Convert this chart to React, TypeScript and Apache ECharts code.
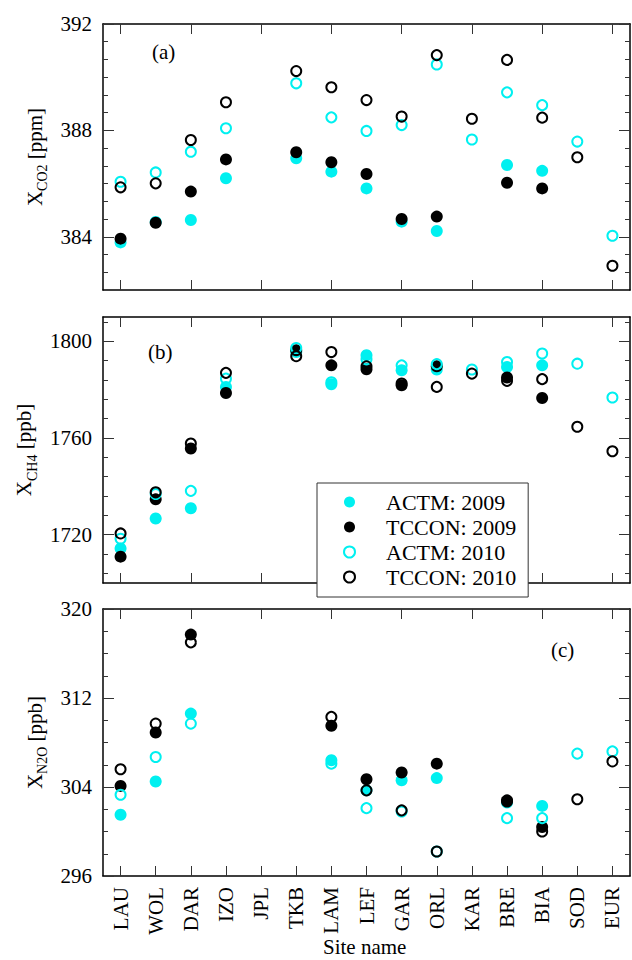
import React, { useEffect, useRef } from "react";
import * as echarts from "echarts";

const sites = ["LAU", "WOL", "DAR", "IZO", "JPL", "TKB", "LAM", "LEF", "GAR", "ORL", "KAR", "BRE", "BIA", "SOD", "EUR"];
const seriesNames = ["ACTM: 2009", "TCCON: 2009", "ACTM: 2010", "TCCON: 2010"];

// XCO2 [ppm]
const co2Actm2009 = [383.79, 384.56, 384.63, 386.2, null, 386.95, 386.45, 385.82, 384.57, 384.22, null, 386.7, 386.48, null, null];
const co2Tccon2009 = [383.93, 384.53, 385.7, 386.91, null, 387.18, 386.8, 386.36, 384.67, 384.76, null, 386.03, 385.82, null, null];
const co2Actm2010 = [386.07, 386.42, 387.2, 388.08, null, 389.77, 388.49, 387.98, 388.2, 390.48, 387.66, 389.43, 388.95, 387.58, 384.04];
const co2Tccon2010 = [385.86, 386.01, 387.64, 389.06, null, 390.23, 389.62, 389.14, 388.52, 390.83, 388.44, 390.65, 388.48, 386.99, 382.91];

// XCH4 [ppb]
const ch4Actm2009 = [1714.3, 1726.7, 1730.9, 1781.1, null, 1795.5, 1782.2, 1794.2, 1788.0, 1788.3, null, 1789.3, 1790.0, null, null];
const ch4Tccon2009 = [1710.9, 1734.6, 1755.6, 1778.6, null, 1796.2, 1790.0, 1788.4, 1781.8, 1789.6, null, 1785.0, 1776.5, null, null];
const ch4Actm2010 = [1718.3, 1736.8, 1738.1, 1784.5, null, 1797.2, 1783.0, 1792.5, 1790.0, 1790.5, 1788.3, 1791.4, 1794.9, 1790.7, 1776.7];
const ch4Tccon2010 = [1720.5, 1737.5, 1757.7, 1786.9, null, 1793.8, 1795.5, 1789.6, 1782.5, 1781.1, 1786.6, 1783.6, 1784.3, 1764.6, 1754.5];

// XN2O [ppb]
const n2oActm2009 = [301.5, 304.5, 310.6, null, null, null, 306.4, 303.7, 304.6, 304.8, null, 302.6, 302.3, null, null];
const n2oTccon2009 = [304.1, 308.9, 317.7, null, null, null, 309.5, 304.7, 305.3, 306.1, null, 302.8, 300.4, null, null];
const n2oActm2010 = [303.3, 306.7, 309.7, null, null, null, 306.1, 302.1, 301.8, 298.2, null, 301.2, 301.2, 307.0, 307.2];
const n2oTccon2010 = [305.6, 309.7, 317.0, null, null, null, 310.3, 303.7, 301.9, 298.2, null, 302.7, 300.0, 302.9, 306.3];

// Axis ranges and ticks
const co2Range = [382, 392];
const co2Labels = [384, 388, 392];
const co2MinorStep = 2 / 3;
const ch4Range = [1700, 1810];
const ch4Labels = [1720, 1760, 1800];
const ch4MinorStart = 1704;
const ch4MinorStep = 8;
const n2oRange = [296, 320];
const n2oLabels = [296, 304, 312, 320];
const n2oMinorStep = 2;

const FONT = "'Liberation Serif', 'Times New Roman', serif";
const CYAN = "#00f0f0";

function steps(start: number, end: number, step: number) {
  const out: number[] = [];
  for (let v = start; v <= end + 1e-6; v += step) out.push(Math.round(v * 1000) / 1000);
  return out;
}

export default function App() {
  const ref = useRef<HTMLDivElement>(null);
  useEffect(() => {
    if (!ref.current) return;
    const chart = echarts.init(ref.current, null, { renderer: "svg" });

    const grids = [
      { left: 103, top: 24, width: 527, height: 266 },
      { left: 103, top: 317, width: 527, height: 266 },
      { left: 103, top: 609, width: 527, height: 267 },
    ];

    const panels = [
      {
        range: co2Range,
        labels: co2Labels,
        minor: steps(co2Range[0] + co2MinorStep, co2Range[1] - 0.01, co2MinorStep),
        name: "{m|X}{s|CO2}{m| [ppm]}",
        data: [co2Actm2009, co2Tccon2009, co2Actm2010, co2Tccon2010],
      },
      {
        range: ch4Range,
        labels: ch4Labels,
        minor: steps(ch4MinorStart, ch4Range[1], ch4MinorStep),
        name: "{m|X}{s|CH4}{m| [ppb]}",
        data: [ch4Actm2009, ch4Tccon2009, ch4Actm2010, ch4Tccon2010],
      },
      {
        range: n2oRange,
        labels: n2oLabels,
        minor: steps(n2oRange[0] + n2oMinorStep, n2oRange[1] - n2oMinorStep, n2oMinorStep),
        name: "{m|X}{s|N2O}{m| [ppb]}",
        data: [n2oActm2009, n2oTccon2009, n2oActm2010, n2oTccon2010],
      },
    ];

    const lineStyle = { color: "#000", width: 1.5 };
    const tickStyle = { color: "#333", width: 1 };

    const xAxis: any[] = [];
    const yAxis: any[] = [];
    const series: any[] = [];

    panels.forEach((p, gi) => {
      xAxis.push({
        type: "category",
        gridIndex: gi,
        data: sites,
        position: "bottom",
        boundaryGap: true,
        axisLine: { show: true, lineStyle },
        axisTick: { show: true, inside: true, length: 10, alignWithLabel: true, lineStyle: tickStyle },
        axisLabel: gi === 2
          ? { show: true, rotate: 90, fontSize: 21, fontFamily: FONT, color: "#000", margin: 11, interval: 0 }
          : { show: false },
        splitLine: { show: false },
      });
      xAxis.push({
        type: "category",
        gridIndex: gi,
        data: sites,
        position: "top",
        boundaryGap: true,
        axisLine: { show: true, lineStyle },
        axisTick: { show: true, inside: true, length: 10, alignWithLabel: true, lineStyle: tickStyle },
        axisLabel: { show: false },
        splitLine: { show: false },
      });
      const base = {
        type: "value",
        gridIndex: gi,
        min: p.range[0],
        max: p.range[1],
        splitLine: { show: false },
      };
      yAxis.push({
        ...base,
        position: "left",
        name: p.name,
        nameLocation: "middle",
        nameRotate: 90,
        nameGap: 51,
        nameTextStyle: {
          fontFamily: FONT,
          color: "#000",
          rich: {
            m: { fontFamily: FONT, fontSize: 21, color: "#000", lineHeight: 30, verticalAlign: "middle" },
            s: { fontFamily: FONT, fontSize: 14, color: "#000", lineHeight: 14, verticalAlign: "bottom" },
          },
        },
        axisLine: { show: true, lineStyle },
        axisTick: { show: true, inside: true, length: 11, customValues: p.labels, lineStyle: tickStyle },
        axisLabel: {
          show: true,
          customValues: p.labels,
          fontSize: 21,
          fontFamily: FONT,
          color: "#000",
          margin: 11,
          formatter: (v: number) => String(v),
        },
      });
      yAxis.push({
        ...base,
        position: "left",
        axisLine: { show: false },
        axisTick: { show: true, inside: true, length: 5, customValues: p.minor, lineStyle: tickStyle },
        axisLabel: { show: false },
      });
      yAxis.push({
        ...base,
        position: "right",
        axisLine: { show: true, lineStyle },
        axisTick: { show: true, inside: true, length: 11, customValues: p.labels, lineStyle: tickStyle },
        axisLabel: { show: false },
      });
      yAxis.push({
        ...base,
        position: "right",
        axisLine: { show: false },
        axisTick: { show: true, inside: true, length: 5, customValues: p.minor, lineStyle: tickStyle },
        axisLabel: { show: false },
      });

      const styles = [
        { symbolSize: 12, itemStyle: { color: CYAN, opacity: 1 } },
        { symbolSize: 12, itemStyle: { color: "#000", opacity: 1 } },
        { symbolSize: 10, itemStyle: { color: "rgba(255,255,255,0)", borderColor: CYAN, borderWidth: 2, opacity: 1 } },
        { symbolSize: 10, itemStyle: { color: "rgba(255,255,255,0)", borderColor: "#000", borderWidth: 2, opacity: 1 } },
      ];
      p.data.forEach((d, si) => {
        series.push({
          type: "scatter",
          name: seriesNames[si],
          xAxisIndex: gi * 2,
          yAxisIndex: gi * 4,
          symbol: "circle",
          ...styles[si],
          data: d,
        });
      });
    });

    const option: any = {
      animation: false,
      backgroundColor: "#fff",
      textStyle: { fontFamily: FONT },
      grid: grids,
      xAxis,
      yAxis,
      series,
      legend: {
        data: seriesNames,
        orient: "vertical",
        left: 317,
        top: 483,
        padding: [8, 12, 9, 26],
        itemGap: 3,
        itemWidth: 11,
        itemHeight: 11,
        backgroundColor: "#fff",
        borderColor: "#333",
        borderWidth: 1,
        borderRadius: 0,
        selectedMode: false,
        textStyle: { fontFamily: FONT, fontSize: 22, color: "#000", lineHeight: 22, padding: [0, 0, 0, 26] },
        z: 10,
      },
      graphic: [
        { type: "text", left: 152, top: 41, style: { text: "(a)", font: `21px ${FONT}`, fill: "#000" } },
        { type: "text", left: 148, top: 341, style: { text: "(b)", font: `21px ${FONT}`, fill: "#000" } },
        { type: "text", left: 551, top: 639, style: { text: "(c)", font: `21px ${FONT}`, fill: "#000" } },
        { type: "text", left: 323, top: 936, style: { text: "Site name", font: `21px ${FONT}`, fill: "#000" } },
      ],
    };
    chart.setOption(option);
    return () => chart.dispose();
  }, []);
  return <div ref={ref} style={{ position: "absolute", left: 0, top: 0, width: 632, height: 960 }} />;
}
